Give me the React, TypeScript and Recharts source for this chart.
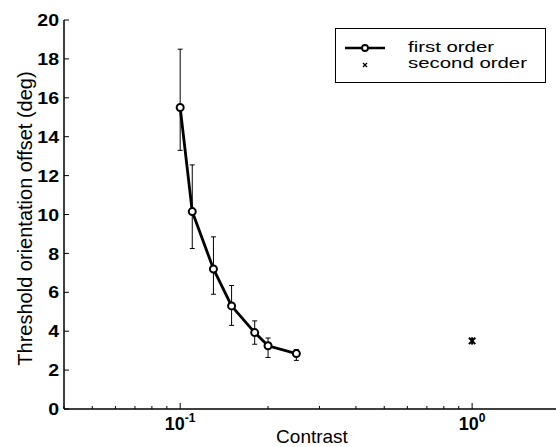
import React from 'react';
import { ComposedChart, Line, Scatter, XAxis, YAxis, ErrorBar, Legend } from 'recharts';

// first order: contrast, threshold (deg) and asymmetric error bars
const contrast = [0.1, 0.11, 0.13, 0.15, 0.18, 0.2, 0.25];
const firstOrder = [15.5, 10.15, 7.2, 5.3, 3.93, 3.25, 2.85];
const errLow = [2.2, 1.9, 1.3, 1.0, 0.6, 0.6, 0.35];
const errHigh = [3.0, 2.4, 1.65, 1.05, 0.6, 0.4, 0.2];

// second order
const secondContrast = [1.0];
const secondOrder = [3.5];

const xTicks = [0.04, 0.05, 0.06, 0.07, 0.08, 0.09, 0.1, 0.2, 0.3, 0.4, 0.5, 0.6, 0.7, 0.8, 0.9, 1, 2];
const xTickExp: Record<string, string> = { '0.1': '-1', '1': '0' };
const yTicks = [0, 2, 4, 6, 8, 10, 12, 14, 16, 18, 20];
const seriesNames = ['first order', 'second order'];
const xLabel = 'Contrast';
const yLabel = 'Threshold orientation offset (deg)';

const FONT = '"Liberation Sans", Arial, Helvetica, sans-serif';

const firstData = contrast.map((c, i) => ({ x: c, y: firstOrder[i], err: [errLow[i], errHigh[i]] }));
const secondData = secondContrast.map((c, i) => ({ x: c, y: secondOrder[i] }));

const BottomTick = (props: any) => {
    const { x, y, payload } = props;
    const exp = xTickExp[String(payload.value)];
    const major = exp !== undefined;
    return (
        <g>
            <line x1={x} x2={x} y1={y} y2={y - (major ? 6 : 3)} stroke="#000" />
            {major && (
                <text
                    x={x}
                    y={y + 21}
                    textAnchor="middle"
                    fontSize={18}
                    fontFamily={FONT}
                    fill="#000"
                    style={{ fontWeight: 700 }}
                >
                    10
                    <tspan dy={-8} fontSize={12}>{exp}</tspan>
                </text>
            )}
        </g>
    );
};

const TopTick = (props: any) => {
    const { x, y, payload } = props;
    const major = xTickExp[String(payload.value)] !== undefined;
    return <line x1={x} x2={x} y1={y} y2={y + (major ? 6 : 3)} stroke="#000" />;
};

const LeftTick = (props: any) => {
    const { x, y, payload } = props;
    return (
        <g>
            <line x1={x} x2={x + 5} y1={y} y2={y} stroke="#000" />
            <text
                transform={`translate(${x - 5},${y}) scale(1.15,1)`}
                dy="0.36em"
                textAnchor="end"
                fontSize={17}
                fontFamily={FONT}
                fill="#000"
                style={{ fontWeight: 700 }}
            >
                {payload.value}
            </text>
        </g>
    );
};

const RightTick = (props: any) => {
    const { x, y } = props;
    return <line x1={x} x2={x - 5} y1={y} y2={y} stroke="#000" />;
};

const Star = (props: any) => {
    const { cx, cy } = props;
    const s = 3.2;
    return (
        <g stroke="#000" strokeWidth={2}>
            <line x1={cx - s} y1={cy - s} x2={cx + s} y2={cy + s} />
            <line x1={cx - s} y1={cy + s} x2={cx + s} y2={cy - s} />
            <line x1={cx} y1={cy - s - 0.5} x2={cx} y2={cy + s + 0.5} />
        </g>
    );
};

const LegendBox = () => (
    <svg width={212} height={56} style={{ display: 'block' }}>
        <rect x={0.5} y={0.5} width={210} height={54} fill="#fff" stroke="#000" />
        <line x1={10} x2={50} y1={20} y2={20} stroke="#000" strokeWidth={2.5} />
        <circle cx={30} cy={20} r={3} fill="#fff" stroke="#000" strokeWidth={1.8} />
        <g stroke="#000" strokeWidth={1.2}>
            <line x1={28} y1={35} x2={32} y2={39} />
            <line x1={28} y1={39} x2={32} y2={35} />
        </g>
        {seriesNames.map((name, i) => (
            <text
                key={name}
                transform={`translate(73,${24 + i * 16}) scale(1.36,1)`}
                fontSize={15}
                fontFamily={FONT}
                fill="#000"
            >
                {name}
            </text>
        ))}
    </svg>
);

export default function App() {
    return (
        <div style={{ position: 'absolute', left: 0, top: 0, width: 556, height: 447, overflow: 'hidden', background: '#fff' }}>
            <ComposedChart width={566} height={447} margin={{ top: 20, right: 6, bottom: 0, left: 0 }}>
                <XAxis
                    xAxisId="b"
                    dataKey="x"
                    type="number"
                    scale="log"
                    domain={[0.04, 2]}
                    allowDataOverflow
                    ticks={xTicks}
                    interval={0}
                    height={38}
                    tickSize={0}
                    tickMargin={0}
                    tickLine={false}
                    tick={<BottomTick />}
                    axisLine={{ stroke: '#000', strokeWidth: 1.5 }}
                    label={{
                        content: (p: any) => (
                            <text
                                x={p.viewBox.x + p.viewBox.width / 2}
                                y={443}
                                textAnchor="middle"
                                fontSize={19}
                                fontFamily={FONT}
                                fill="#000"
                            >
                                {xLabel}
                            </text>
                        ),
                    }}
                />
                <XAxis
                    xAxisId="t"
                    dataKey="x"
                    type="number"
                    scale="log"
                    orientation="top"
                    domain={[0.04, 2]}
                    allowDataOverflow
                    ticks={xTicks}
                    interval={0}
                    height={0}
                    tickSize={0}
                    tickMargin={0}
                    tickLine={false}
                    tick={<TopTick />}
                    axisLine={{ stroke: '#000', strokeWidth: 1.5 }}
                />
                <YAxis
                    yAxisId="l"
                    type="number"
                    domain={[0, 20]}
                    ticks={yTicks}
                    interval={0}
                    width={64}
                    tickSize={0}
                    tickMargin={0}
                    tickLine={false}
                    tick={<LeftTick />}
                    axisLine={{ stroke: '#000', strokeWidth: 1.5 }}
                    label={{
                        content: (p: any) => {
                            const cy = p.viewBox.y + p.viewBox.height / 2 + 4;
                            return (
                                <text
                                    x={25}
                                    y={cy}
                                    transform={`rotate(-90, 25, ${cy})`}
                                    dy="0.36em"
                                    textAnchor="middle"
                                    fontSize={20}
                                    fontFamily={FONT}
                                    fill="#000"
                                >
                                    {yLabel}
                                </text>
                            );
                        },
                    }}
                />
                <YAxis
                    yAxisId="r"
                    orientation="right"
                    type="number"
                    domain={[0, 20]}
                    ticks={yTicks}
                    interval={0}
                    width={0}
                    tickSize={0}
                    tickMargin={0}
                    tickLine={false}
                    tick={<RightTick />}
                    axisLine={{ stroke: '#000', strokeWidth: 1.5 }}
                />
                <Legend
                    layout="vertical"
                    align="center"
                    verticalAlign="middle"
                    content={<LegendBox />}
                    wrapperStyle={{ left: 335, top: 28, width: 212, height: 56 }}
                />
                <Line
                    xAxisId="b"
                    yAxisId="l"
                    data={firstData}
                    dataKey="y"
                    name={seriesNames[0]}
                    stroke="#000"
                    strokeWidth={2.8}
                    dot={{ r: 3.5, fill: '#fff', stroke: '#000', strokeWidth: 2 }}
                    activeDot={false}
                    isAnimationActive={false}
                >
                    <ErrorBar dataKey="err" direction="y" width={2.5} stroke="#000" strokeWidth={1} />
                </Line>
                <Scatter
                    xAxisId="b"
                    yAxisId="l"
                    data={secondData}
                    dataKey="y"
                    name={seriesNames[1]}
                    shape={<Star />}
                    isAnimationActive={false}
                />
            </ComposedChart>
        </div>
    );
}
